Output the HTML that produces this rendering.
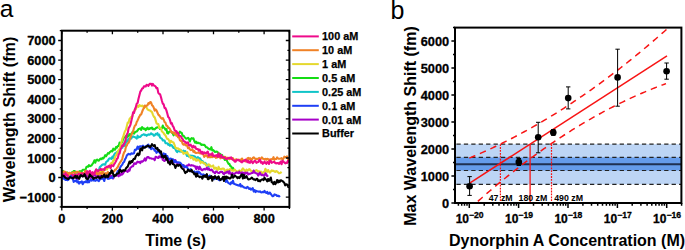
<!DOCTYPE html>
<html><head><meta charset="utf-8"><style>
html,body{margin:0;padding:0;background:#fff;}
body{width:685px;height:250px;overflow:hidden;}
svg{display:block;}
</style></head><body>
<svg width="685" height="250" viewBox="0 0 685 250">
<defs><clipPath id="ca"><rect x="61.8" y="30.7" width="227.6" height="176.2"/></clipPath></defs>
<g clip-path="url(#ca)" fill="none" stroke-width="2.1" stroke-linejoin="round">
<polyline stroke="#14dc14" points="62.0,174.8 62.9,170.8 63.8,172.7 64.7,172.1 65.6,172.9 66.5,173.3 67.4,172.5 68.3,174.4 69.2,173.6 70.1,176.9 71.0,174.0 71.9,172.2 72.8,172.3 73.7,171.1 74.6,171.0 75.5,172.0 76.4,172.6 77.3,172.5 78.2,172.7 79.1,171.7 80.0,171.0 80.9,171.9 81.8,171.1 82.7,169.7 83.6,169.8 84.5,169.7 85.4,170.2 86.3,167.2 87.2,166.6 88.1,166.8 89.0,165.1 89.9,166.2 90.8,165.8 91.7,165.3 92.6,163.8 93.5,162.7 94.4,160.3 95.3,162.7 96.2,160.1 97.1,159.5 98.0,160.4 98.9,160.6 99.8,159.4 100.7,158.6 101.6,159.2 102.5,157.9 103.4,158.5 104.3,156.9 105.2,155.2 106.1,156.3 107.0,154.8 107.9,153.2 108.8,153.6 109.7,152.2 110.6,151.6 111.5,150.8 112.4,151.3 113.3,148.7 114.2,149.7 115.1,149.7 116.0,147.0 116.9,147.6 117.8,146.0 118.7,145.9 119.6,142.5 120.5,142.9 121.4,143.1 122.3,142.1 123.2,138.3 124.1,137.5 125.0,137.4 125.9,136.0 126.8,137.6 127.7,135.5 128.6,136.2 129.5,134.1 130.4,135.5 131.3,133.6 132.2,132.6 133.1,131.3 134.0,133.7 134.9,132.4 135.8,131.7 136.7,131.5 137.6,130.5 138.5,129.1 139.4,128.8 140.3,128.4 141.2,129.9 142.1,127.1 143.0,128.1 143.9,128.9 144.8,128.6 145.7,130.2 146.6,128.7 147.5,127.6 148.4,129.2 149.3,129.0 150.2,128.1 151.1,128.5 152.0,127.5 152.9,129.2 153.8,128.9 154.7,129.4 155.6,128.4 156.5,127.6 157.4,127.2 158.3,127.5 159.2,126.8 160.1,129.0 161.0,128.5 161.9,128.3 162.8,125.6 163.7,127.6 164.6,128.1 165.5,129.6 166.4,129.0 167.3,133.2 168.2,133.4 169.1,131.7 170.0,131.5 170.9,131.3 171.8,132.4 172.7,133.4 173.6,135.3 174.5,133.3 175.4,133.9 176.3,133.1 177.2,134.2 178.1,133.2 179.0,133.3 179.9,131.7 180.8,132.6 181.7,132.7 182.6,135.8 183.5,135.7 184.4,136.9 185.3,137.9 186.2,138.7 187.1,138.5 188.0,137.8 188.9,138.8 189.8,141.5 190.7,139.2 191.6,138.1 192.5,138.6 193.4,138.3 194.3,141.0 195.2,142.7 196.1,141.7 197.0,143.2 197.9,142.5 198.8,143.2 199.7,143.2 200.6,143.9 201.5,145.0 202.4,144.6 203.3,145.0 204.2,144.7 205.1,145.7 206.0,147.2 206.9,147.2 207.8,148.1 208.7,148.8 209.6,149.2 210.5,149.5 211.4,147.2 212.3,150.5 213.2,150.1 214.1,151.0 215.0,151.9 215.9,151.7 216.8,151.5 217.7,152.2 218.6,153.7 219.5,153.5 220.4,154.1 221.3,155.2 222.2,155.1 223.1,157.9 224.0,158.4 224.9,160.0 225.8,159.3 226.7,160.2 227.6,162.1 228.5,163.9 229.4,163.9 230.3,166.1 231.2,166.4 232.1,169.0 233.0,167.9 233.9,170.1"/>
<polyline stroke="#10c4c8" points="62.0,173.4 62.9,173.7 63.8,175.8 64.7,174.9 65.6,174.0 66.5,175.1 67.4,174.5 68.3,175.5 69.2,174.5 70.1,176.5 71.0,176.5 71.9,177.5 72.8,175.8 73.7,176.1 74.6,174.0 75.5,176.7 76.4,174.1 77.3,176.2 78.2,173.9 79.1,174.1 80.0,174.4 80.9,174.3 81.8,176.1 82.7,175.2 83.6,175.6 84.5,173.1 85.4,174.6 86.3,173.7 87.2,175.2 88.1,172.5 89.0,174.3 89.9,175.2 90.8,174.2 91.7,176.0 92.6,174.2 93.5,174.2 94.4,174.1 95.3,171.5 96.2,172.0 97.1,170.8 98.0,170.1 98.9,170.2 99.8,167.1 100.7,166.4 101.6,165.4 102.5,164.7 103.4,164.3 104.3,164.4 105.2,164.7 106.1,162.0 107.0,161.4 107.9,160.6 108.8,159.1 109.7,158.2 110.6,158.3 111.5,159.0 112.4,156.6 113.3,157.9 114.2,154.6 115.1,153.2 116.0,152.9 116.9,152.0 117.8,152.0 118.7,150.8 119.6,150.0 120.5,149.1 121.4,146.7 122.3,147.8 123.2,145.1 124.1,143.8 125.0,146.0 125.9,142.5 126.8,140.2 127.7,141.3 128.6,138.6 129.5,139.3 130.4,137.7 131.3,138.6 132.2,136.8 133.1,136.4 134.0,136.9 134.9,137.1 135.8,137.6 136.7,138.7 137.6,135.7 138.5,137.5 139.4,136.8 140.3,136.9 141.2,135.8 142.1,134.9 143.0,134.7 143.9,134.2 144.8,135.1 145.7,134.8 146.6,135.8 147.5,135.0 148.4,134.4 149.3,134.8 150.2,134.3 151.1,133.3 152.0,134.1 152.9,134.2 153.8,135.7 154.7,135.5 155.6,133.9 156.5,134.4 157.4,133.2 158.3,135.3 159.2,134.5 160.1,137.7 161.0,138.2 161.9,138.6 162.8,140.5 163.7,140.4 164.6,140.6 165.5,143.1 166.4,143.3 167.3,143.2 168.2,144.8 169.1,143.8 170.0,145.8 170.9,145.0 171.8,145.2 172.7,146.9 173.6,148.0 174.5,147.1 175.4,149.3 176.3,151.0 177.2,152.2 178.1,151.0 179.0,150.6 179.9,151.6 180.8,150.1 181.7,151.7 182.6,152.0 183.5,150.7 184.4,152.2 185.3,151.0 186.2,154.0 187.1,156.0 188.0,154.7 188.9,156.6 189.8,155.9 190.7,155.6 191.6,155.8 192.5,155.7 193.4,156.1 194.3,156.2 195.2,156.9 196.1,157.9 197.0,157.8 197.9,157.2 198.8,159.1 199.7,158.1 200.6,159.3 201.5,161.2 202.4,161.0 203.3,162.1 204.2,163.5 205.1,162.8 206.0,163.8 206.9,164.5 207.8,165.9 208.7,165.7 209.6,167.3"/>
<polyline stroke="#e5d82e" points="62.0,173.6 62.9,173.4 63.8,174.3 64.7,175.0 65.6,175.2 66.5,174.2 67.4,173.5 68.3,173.5 69.2,175.3 70.1,176.0 71.0,175.2 71.9,174.5 72.8,175.2 73.7,177.6 74.6,176.7 75.5,174.6 76.4,175.6 77.3,174.4 78.2,174.4 79.1,174.9 80.0,175.1 80.9,175.7 81.8,174.6 82.7,174.4 83.6,174.8 84.5,175.7 85.4,173.9 86.3,175.2 87.2,174.9 88.1,175.2 89.0,174.7 89.9,175.1 90.8,174.6 91.7,174.2 92.6,173.1 93.5,173.9 94.4,173.2 95.3,172.9 96.2,174.5 97.1,171.9 98.0,173.7 98.9,173.0 99.8,170.4 100.7,172.9 101.6,170.9 102.5,171.9 103.4,171.4 104.3,168.9 105.2,169.8 106.1,168.8 107.0,169.5 107.9,167.1 108.8,167.5 109.7,165.3 110.6,164.0 111.5,162.8 112.4,163.6 113.3,160.4 114.2,160.3 115.1,156.8 116.0,155.5 116.9,153.8 117.8,151.3 118.7,150.3 119.6,148.9 120.5,145.0 121.4,142.4 122.3,138.7 123.2,136.7 124.1,133.6 125.0,131.2 125.9,129.7 126.8,126.2 127.7,122.6 128.6,122.8 129.5,119.0 130.4,118.1 131.3,116.7 132.2,116.6 133.1,113.7 134.0,111.7 134.9,109.8 135.8,109.3 136.7,106.9 137.6,105.8 138.5,106.9 139.4,105.0 140.3,105.6 141.2,106.2 142.1,105.6 143.0,105.9 143.9,108.0 144.8,106.5 145.7,107.2 146.6,107.7 147.5,109.3 148.4,110.0 149.3,110.4 150.2,110.5 151.1,111.4 152.0,112.1 152.9,114.6 153.8,116.6 154.7,117.4 155.6,120.1 156.5,123.3 157.4,123.9 158.3,124.0 159.2,127.8 160.1,128.0 161.0,128.4 161.9,131.5 162.8,132.1 163.7,133.1 164.6,134.6 165.5,135.5 166.4,137.4 167.3,139.0 168.2,139.0 169.1,140.5 170.0,143.0 170.9,140.8 171.8,141.7 172.7,142.3 173.6,142.6 174.5,144.8 175.4,147.5 176.3,148.5 177.2,148.2 178.1,148.3 179.0,149.5 179.9,149.4 180.8,150.6 181.7,151.5 182.6,151.8 183.5,153.9 184.4,153.0 185.3,152.9 186.2,153.4 187.1,152.0 188.0,153.7 188.9,155.1 189.8,156.3 190.7,158.1 191.6,157.1 192.5,157.0 193.4,159.6 194.3,159.4 195.2,158.7 196.1,160.8 197.0,160.7 197.9,159.3 198.8,160.4 199.7,160.6 200.6,163.2 201.5,161.8 202.4,161.8 203.3,163.2 204.2,163.2 205.1,163.4 206.0,165.4 206.9,165.6 207.8,165.2 208.7,164.4 209.6,164.7 210.5,166.5 211.4,166.4 212.3,166.3 213.2,165.4 214.1,168.7 215.0,168.7 215.9,167.5 216.8,169.2 217.7,169.8 218.6,166.8 219.5,168.9 220.4,169.0 221.3,169.4 222.2,168.6 223.1,168.6 224.0,168.8 224.9,171.1 225.8,171.7 226.7,169.7 227.6,169.6 228.5,172.0 229.4,169.4 230.3,169.0 231.2,170.0 232.1,170.7 233.0,170.4 233.9,170.7 234.8,169.5 235.7,170.8 236.6,171.0 237.5,172.1 238.4,171.5 239.3,170.3 240.2,170.8 241.1,172.3 242.0,169.7 242.9,168.4 243.8,169.5 244.7,170.4 245.6,171.9 246.5,169.5 247.4,170.6 248.3,170.3 249.2,169.0 250.1,169.7 251.0,171.0 251.9,171.4 252.8,171.4 253.7,170.8 254.6,171.5 255.5,170.9 256.4,170.1 257.3,170.6 258.2,171.7 259.1,171.3 260.0,173.9 260.9,171.5 261.8,172.9 262.7,173.2 263.6,172.0 264.5,171.9 265.4,168.7 266.3,170.9 267.2,171.8 268.1,170.0 269.0,171.6 269.9,172.7 270.8,171.5 271.7,170.3 272.6,170.9 273.5,170.7 274.4,171.6 275.3,171.9 276.2,171.1 277.1,171.4 278.0,172.2 278.9,173.3 279.8,173.2 280.7,172.7 281.6,171.9"/>
<polyline stroke="#a600c8" points="62.0,177.5 62.9,177.8 63.8,174.4 64.7,176.4 65.6,177.4 66.5,177.5 67.4,177.3 68.3,177.8 69.2,176.9 70.1,177.2 71.0,176.2 71.9,175.8 72.8,176.4 73.7,177.5 74.6,176.5 75.5,178.0 76.4,178.2 77.3,179.2 78.2,178.5 79.1,178.3 80.0,175.3 80.9,175.1 81.8,175.4 82.7,176.3 83.6,175.1 84.5,174.5 85.4,176.5 86.3,175.2 87.2,177.0 88.1,176.7 89.0,176.5 89.9,177.0 90.8,178.0 91.7,176.5 92.6,177.3 93.5,175.3 94.4,175.3 95.3,175.0 96.2,176.5 97.1,176.5 98.0,175.8 98.9,178.1 99.8,175.9 100.7,175.5 101.6,175.9 102.5,177.7 103.4,175.8 104.3,176.6 105.2,176.0 106.1,174.2 107.0,177.2 107.9,177.7 108.8,176.8 109.7,176.9 110.6,175.7 111.5,175.9 112.4,177.0 113.3,178.3 114.2,176.1 115.1,176.0 116.0,175.6 116.9,174.8 117.8,175.4 118.7,176.3 119.6,174.3 120.5,175.3 121.4,173.2 122.3,174.5 123.2,173.1 124.1,171.6 125.0,171.0 125.9,170.9 126.8,171.2 127.7,171.9 128.6,169.7 129.5,170.7 130.4,167.6 131.3,167.1 132.2,166.2 133.1,166.1 134.0,163.6 134.9,163.3 135.8,164.0 136.7,162.6 137.6,161.7 138.5,162.3 139.4,161.9 140.3,163.1 141.2,161.3 142.1,161.8 143.0,161.1 143.9,160.4 144.8,158.4 145.7,160.6 146.6,158.2 147.5,157.0 148.4,157.0 149.3,158.1 150.2,158.2 151.1,158.3 152.0,158.8 152.9,158.7 153.8,158.7 154.7,160.2 155.6,156.8 156.5,157.0 157.4,157.7 158.3,158.0 159.2,156.3 160.1,157.3 161.0,157.1 161.9,156.2 162.8,159.9 163.7,160.5 164.6,161.0 165.5,159.2 166.4,159.4 167.3,158.8 168.2,160.0 169.1,159.9 170.0,161.8 170.9,161.7 171.8,162.6 172.7,162.9 173.6,162.7 174.5,160.2 175.4,160.1 176.3,162.7 177.2,162.8 178.1,163.6 179.0,164.8 179.9,164.7 180.8,165.0 181.7,165.7 182.6,166.2 183.5,165.0 184.4,167.6 185.3,166.7 186.2,166.4 187.1,165.4 188.0,165.6 188.9,164.4 189.8,165.3 190.7,165.6 191.6,165.1 192.5,165.5 193.4,165.5 194.3,166.3 195.2,166.3 196.1,169.0 197.0,166.7 197.9,167.2 198.8,169.3 199.7,166.7 200.6,168.7 201.5,169.9 202.4,170.2 203.3,169.3 204.2,168.8 205.1,169.5 206.0,169.0 206.9,167.6 207.8,169.5 208.7,168.3 209.6,170.0 210.5,170.2 211.4,169.6 212.3,170.4 213.2,171.9 214.1,172.4 215.0,173.3 215.9,171.6 216.8,171.6 217.7,172.6 218.6,173.0 219.5,172.9 220.4,171.7 221.3,172.0 222.2,171.9 223.1,173.4 224.0,174.2 224.9,172.7 225.8,173.0 226.7,171.9 227.6,171.6 228.5,173.3 229.4,171.2 230.3,173.8 231.2,174.4 232.1,173.0 233.0,173.5 233.9,174.1 234.8,173.6 235.7,172.8 236.6,172.3 237.5,172.7 238.4,173.1 239.3,171.7 240.2,173.2 241.1,173.4 242.0,172.3 242.9,174.1 243.8,172.7 244.7,174.3 245.6,172.7 246.5,173.3 247.4,172.7 248.3,174.4 249.2,173.9 250.1,173.8 251.0,173.4 251.9,173.0 252.8,172.9 253.7,170.6 254.6,172.6 255.5,172.7 256.4,173.5 257.3,173.5 258.2,175.6 259.1,174.1 260.0,172.6 260.9,174.6 261.8,175.2 262.7,174.6 263.6,175.6 264.5,175.5 265.4,173.3 266.3,174.2 267.2,176.1 268.1,175.2"/>
<polyline stroke="#f08226" points="62.0,172.0 62.9,171.9 63.8,171.9 64.7,171.5 65.6,172.4 66.5,172.3 67.4,172.8 68.3,174.1 69.2,172.8 70.1,172.9 71.0,173.4 71.9,173.2 72.8,172.6 73.7,172.2 74.6,172.8 75.5,173.2 76.4,171.9 77.3,171.8 78.2,171.8 79.1,172.9 80.0,172.4 80.9,174.5 81.8,173.2 82.7,173.0 83.6,173.2 84.5,172.6 85.4,170.6 86.3,172.8 87.2,172.9 88.1,173.0 89.0,172.1 89.9,173.4 90.8,173.1 91.7,173.8 92.6,174.6 93.5,172.8 94.4,172.7 95.3,173.4 96.2,172.8 97.1,173.6 98.0,174.7 98.9,174.1 99.8,172.8 100.7,173.3 101.6,174.0 102.5,171.6 103.4,174.0 104.3,173.7 105.2,173.2 106.1,175.0 107.0,173.2 107.9,172.0 108.8,173.2 109.7,173.7 110.6,173.0 111.5,172.3 112.4,171.0 113.3,171.3 114.2,171.4 115.1,169.5 116.0,169.5 116.9,167.9 117.8,167.0 118.7,164.8 119.6,163.3 120.5,161.9 121.4,160.7 122.3,158.6 123.2,154.9 124.1,152.3 125.0,151.3 125.9,146.9 126.8,145.5 127.7,143.4 128.6,142.7 129.5,140.7 130.4,137.5 131.3,135.5 132.2,132.9 133.1,131.7 134.0,127.8 134.9,125.7 135.8,125.0 136.7,122.0 137.6,120.4 138.5,118.3 139.4,116.6 140.3,114.7 141.2,114.4 142.1,111.8 143.0,109.5 143.9,108.1 144.8,105.6 145.7,106.5 146.6,105.5 147.5,105.4 148.4,103.2 149.3,103.6 150.2,102.0 151.1,102.5 152.0,105.2 152.9,106.1 153.8,107.8 154.7,110.6 155.6,109.3 156.5,110.4 157.4,112.5 158.3,114.6 159.2,115.4 160.1,116.7 161.0,118.0 161.9,118.7 162.8,118.0 163.7,119.7 164.6,122.2 165.5,122.7 166.4,125.7 167.3,125.8 168.2,128.0 169.1,127.9 170.0,129.1 170.9,131.1 171.8,132.6 172.7,132.0 173.6,132.8 174.5,134.0 175.4,132.7 176.3,135.7 177.2,134.9 178.1,137.3 179.0,137.3 179.9,140.2 180.8,140.9 181.7,140.8 182.6,143.8 183.5,144.6 184.4,144.0 185.3,145.0 186.2,145.5 187.1,145.2 188.0,148.2 188.9,147.6 189.8,149.2 190.7,150.1 191.6,149.7 192.5,149.4 193.4,151.8 194.3,150.9 195.2,152.7 196.1,152.9 197.0,152.7 197.9,152.7 198.8,152.6 199.7,153.3 200.6,153.4 201.5,153.5 202.4,153.7 203.3,154.4 204.2,156.9 205.1,155.8 206.0,155.1 206.9,155.8 207.8,157.3 208.7,155.4 209.6,157.3 210.5,157.3 211.4,155.6 212.3,157.2 213.2,156.0 214.1,156.8 215.0,155.8 215.9,157.9 216.8,157.5 217.7,157.2 218.6,156.8 219.5,156.3 220.4,158.3 221.3,157.1 222.2,157.7 223.1,157.6 224.0,157.0 224.9,156.7 225.8,158.0 226.7,157.7 227.6,157.7 228.5,158.4 229.4,159.2 230.3,158.2 231.2,158.9 232.1,158.0 233.0,158.3 233.9,160.3 234.8,160.2 235.7,159.5 236.6,159.2 237.5,160.0 238.4,159.9 239.3,160.4 240.2,159.6 241.1,160.6 242.0,158.5 242.9,160.1 243.8,160.2 244.7,160.6 245.6,161.5 246.5,160.5 247.4,158.3 248.3,157.8 249.2,159.1 250.1,158.2 251.0,159.2 251.9,159.7 252.8,157.9 253.7,157.3 254.6,158.3 255.5,158.9 256.4,158.7 257.3,158.9 258.2,158.8 259.1,157.9 260.0,159.4 260.9,158.6 261.8,157.4 262.7,158.7 263.6,158.8 264.5,159.4 265.4,158.8 266.3,159.7 267.2,158.8 268.1,159.0 269.0,160.4 269.9,159.3 270.8,159.5 271.7,159.1 272.6,159.2 273.5,157.1 274.4,159.8 275.3,159.0 276.2,159.0 277.1,157.4 278.0,158.4 278.9,158.7 279.8,158.7 280.7,158.5 281.6,158.1 282.5,159.9 283.4,158.6 284.3,156.7 285.2,157.1 286.1,157.0 287.0,156.3 287.9,158.9 288.8,160.8"/>
<polyline stroke="#ee0a8a" points="62.0,175.0 62.9,175.0 63.8,175.0 64.7,175.3 65.6,173.2 66.5,175.2 67.4,175.0 68.3,176.6 69.2,176.8 70.1,176.9 71.0,175.6 71.9,174.8 72.8,175.4 73.7,176.5 74.6,174.5 75.5,175.9 76.4,175.0 77.3,175.8 78.2,174.0 79.1,173.9 80.0,174.5 80.9,174.5 81.8,173.1 82.7,175.0 83.6,174.5 84.5,173.7 85.4,174.1 86.3,173.2 87.2,171.2 88.1,173.8 89.0,171.7 89.9,170.8 90.8,173.0 91.7,174.7 92.6,172.2 93.5,173.8 94.4,174.0 95.3,171.1 96.2,169.3 97.1,170.5 98.0,171.4 98.9,170.2 99.8,170.0 100.7,168.9 101.6,170.0 102.5,169.2 103.4,169.2 104.3,170.1 105.2,167.6 106.1,167.4 107.0,166.5 107.9,167.1 108.8,165.9 109.7,165.9 110.6,168.2 111.5,165.2 112.4,165.6 113.3,166.2 114.2,164.1 115.1,162.8 116.0,161.3 116.9,158.9 117.8,158.1 118.7,154.2 119.6,153.4 120.5,149.4 121.4,147.6 122.3,145.4 123.2,145.8 124.1,143.3 125.0,142.0 125.9,137.8 126.8,134.5 127.7,133.1 128.6,128.2 129.5,126.9 130.4,124.9 131.3,120.9 132.2,117.2 133.1,112.3 134.0,112.9 134.9,109.3 135.8,107.3 136.7,103.8 137.6,103.0 138.5,98.8 139.4,95.2 140.3,91.7 141.2,90.5 142.1,88.6 143.0,88.3 143.9,86.4 144.8,86.3 145.7,86.4 146.6,84.8 147.5,85.2 148.4,85.8 149.3,84.4 150.2,83.7 151.1,83.8 152.0,85.6 152.9,83.9 153.8,85.6 154.7,85.8 155.6,86.5 156.5,88.2 157.4,88.1 158.3,92.9 159.2,93.9 160.1,94.2 161.0,97.3 161.9,100.8 162.8,103.7 163.7,104.4 164.6,108.1 165.5,108.1 166.4,110.4 167.3,113.5 168.2,116.9 169.1,117.8 170.0,120.1 170.9,123.6 171.8,123.1 172.7,125.8 173.6,127.1 174.5,129.9 175.4,131.0 176.3,131.0 177.2,133.0 178.1,132.9 179.0,135.5 179.9,135.9 180.8,136.3 181.7,137.8 182.6,139.1 183.5,140.8 184.4,141.5 185.3,142.0 186.2,143.1 187.1,142.6 188.0,142.4 188.9,145.2 189.8,145.6 190.7,144.6 191.6,146.4 192.5,147.5 193.4,145.8 194.3,147.3 195.2,146.6 196.1,148.9 197.0,148.9 197.9,149.1 198.8,150.6 199.7,149.6 200.6,151.4 201.5,153.4 202.4,151.8 203.3,153.9 204.2,152.3 205.1,153.0 206.0,153.3 206.9,152.3 207.8,151.7 208.7,155.8 209.6,154.3 210.5,154.2 211.4,154.9 212.3,153.1 213.2,155.9 214.1,156.2 215.0,155.5 215.9,155.6 216.8,155.0 217.7,157.0 218.6,153.4 219.5,156.3 220.4,156.8 221.3,155.0 222.2,157.6 223.1,157.0 224.0,157.5 224.9,158.0 225.8,158.9 226.7,159.3 227.6,158.3 228.5,158.2 229.4,157.8 230.3,158.1 231.2,157.4 232.1,159.1 233.0,159.8 233.9,160.3 234.8,161.7 235.7,161.6 236.6,159.9 237.5,160.1 238.4,159.8 239.3,160.7 240.2,161.2 241.1,161.8 242.0,162.3 242.9,160.9 243.8,161.3 244.7,160.4 245.6,159.6 246.5,160.8 247.4,162.1 248.3,160.7 249.2,162.7 250.1,162.7 251.0,160.9 251.9,161.7 252.8,163.1 253.7,162.0 254.6,160.9 255.5,161.0 256.4,162.8 257.3,162.4 258.2,162.0 259.1,160.2 260.0,159.8 260.9,162.7 261.8,161.9 262.7,163.8 263.6,163.2 264.5,161.5 265.4,162.9 266.3,163.9 267.2,162.0 268.1,162.5 269.0,164.0 269.9,160.6 270.8,161.0 271.7,162.8 272.6,162.4 273.5,162.0 274.4,161.7 275.3,163.1 276.2,163.4 277.1,163.1 278.0,162.9 278.9,163.9 279.8,163.1 280.7,161.5 281.6,164.2 282.5,160.8 283.4,161.6 284.3,162.5 285.2,163.3 286.1,162.6 287.0,163.1 287.9,160.8 288.8,162.7"/>
<polyline stroke="#1f3ff5" points="62.0,178.2 62.9,178.7 63.8,177.1 64.7,179.1 65.6,179.9 66.5,179.6 67.4,180.2 68.3,179.8 69.2,178.7 70.1,176.9 71.0,176.1 71.9,178.5 72.8,178.5 73.7,181.9 74.6,180.9 75.5,181.2 76.4,180.1 77.3,182.3 78.2,181.3 79.1,183.6 80.0,182.1 80.9,182.4 81.8,181.3 82.7,184.2 83.6,182.2 84.5,181.9 85.4,182.2 86.3,181.0 87.2,182.3 88.1,180.1 89.0,182.3 89.9,180.3 90.8,179.8 91.7,180.6 92.6,178.9 93.5,180.5 94.4,179.5 95.3,180.8 96.2,180.4 97.1,179.6 98.0,180.6 98.9,181.1 99.8,179.4 100.7,179.1 101.6,178.8 102.5,178.7 103.4,178.9 104.3,181.0 105.2,177.1 106.1,177.0 107.0,177.8 107.9,178.9 108.8,178.8 109.7,178.2 110.6,177.9 111.5,177.4 112.4,178.2 113.3,175.8 114.2,175.8 115.1,174.9 116.0,175.2 116.9,173.7 117.8,171.0 118.7,172.4 119.6,169.0 120.5,166.9 121.4,165.6 122.3,164.6 123.2,162.6 124.1,162.0 125.0,159.3 125.9,158.0 126.8,155.5 127.7,154.6 128.6,153.8 129.5,154.3 130.4,154.5 131.3,153.3 132.2,153.6 133.1,153.6 134.0,153.2 134.9,149.7 135.8,150.0 136.7,149.1 137.6,146.6 138.5,148.8 139.4,146.6 140.3,146.2 141.2,146.7 142.1,146.3 143.0,145.7 143.9,146.7 144.8,147.3 145.7,146.6 146.6,145.7 147.5,145.5 148.4,144.5 149.3,147.6 150.2,146.2 151.1,149.2 152.0,147.9 152.9,148.6 153.8,148.9 154.7,150.8 155.6,150.6 156.5,152.8 157.4,151.8 158.3,151.6 159.2,151.8 160.1,153.6 161.0,154.0 161.9,156.0 162.8,154.9 163.7,153.3 164.6,156.2 165.5,154.0 166.4,158.4 167.3,156.0 168.2,158.7 169.1,159.3 170.0,158.7 170.9,158.5 171.8,160.1 172.7,159.2 173.6,159.8 174.5,162.1 175.4,161.0 176.3,162.1 177.2,162.3 178.1,162.3 179.0,162.6 179.9,162.6 180.8,163.3 181.7,164.5 182.6,165.4 183.5,165.4 184.4,166.9 185.3,166.6 186.2,166.9 187.1,167.4 188.0,169.2 188.9,170.4 189.8,169.9 190.7,169.2 191.6,171.4 192.5,171.9 193.4,171.7 194.3,171.4 195.2,172.4 196.1,173.5 197.0,171.5 197.9,173.4 198.8,171.8 199.7,172.5 200.6,173.9 201.5,174.4 202.4,175.0 203.3,174.3 204.2,174.8 205.1,176.0 206.0,174.8 206.9,175.3 207.8,176.8 208.7,177.0 209.6,175.5 210.5,176.9 211.4,177.5 212.3,178.2 213.2,177.6 214.1,179.1 215.0,179.0 215.9,177.4 216.8,178.0 217.7,177.5 218.6,179.9 219.5,180.3 220.4,179.0 221.3,179.4 222.2,179.3 223.1,178.1 224.0,177.0 224.9,177.7 225.8,181.9 226.7,179.8 227.6,181.9 228.5,183.1 229.4,183.5 230.3,184.3 231.2,182.3 232.1,183.2 233.0,180.7 233.9,183.8 234.8,184.1 235.7,184.5 236.6,184.9 237.5,185.0 238.4,185.5 239.3,185.7 240.2,184.0 241.1,186.6 242.0,185.7 242.9,186.6 243.8,187.3 244.7,187.7 245.6,187.8 246.5,188.2 247.4,186.9 248.3,187.5 249.2,189.0 250.1,188.3 251.0,189.6 251.9,188.9 252.8,188.2 253.7,191.6 254.6,190.0 255.5,192.1 256.4,190.9 257.3,191.2 258.2,191.4 259.1,191.6 260.0,191.4 260.9,192.2 261.8,192.4 262.7,191.9 263.6,192.2 264.5,190.8 265.4,192.4 266.3,193.0 267.2,191.8 268.1,193.8 269.0,193.7 269.9,192.5 270.8,194.0 271.7,195.1 272.6,196.3 273.5,196.0 274.4,194.4 275.3,194.7 276.2,195.0 277.1,196.0 278.0,195.8 278.9,195.8 279.8,197.1"/>
<polyline stroke="#000000" points="62.0,175.4 62.9,176.0 63.8,175.8 64.7,177.1 65.6,177.8 66.5,178.3 67.4,178.7 68.3,179.0 69.2,178.1 70.1,177.1 71.0,177.5 71.9,177.8 72.8,178.2 73.7,178.0 74.6,176.6 75.5,175.9 76.4,177.9 77.3,176.1 78.2,178.0 79.1,178.8 80.0,176.6 80.9,175.1 81.8,175.7 82.7,176.5 83.6,176.1 84.5,174.2 85.4,176.0 86.3,178.7 87.2,179.2 88.1,178.8 89.0,176.9 89.9,174.4 90.8,176.0 91.7,176.3 92.6,177.5 93.5,179.0 94.4,177.7 95.3,177.7 96.2,177.9 97.1,177.3 98.0,176.4 98.9,177.0 99.8,178.5 100.7,177.8 101.6,176.2 102.5,177.2 103.4,176.0 104.3,174.5 105.2,177.3 106.1,176.9 107.0,175.3 107.9,177.1 108.8,175.2 109.7,173.1 110.6,173.6 111.5,170.2 112.4,171.4 113.3,174.5 114.2,176.3 115.1,175.3 116.0,175.4 116.9,173.5 117.8,173.5 118.7,173.5 119.6,169.7 120.5,169.9 121.4,171.9 122.3,171.3 123.2,170.1 124.1,170.7 125.0,170.4 125.9,168.5 126.8,167.3 127.7,166.6 128.6,164.1 129.5,161.5 130.4,163.4 131.3,161.1 132.2,162.0 133.1,159.8 134.0,158.8 134.9,158.9 135.8,156.1 136.7,155.1 137.6,153.5 138.5,155.3 139.4,154.5 140.3,149.1 141.2,148.4 142.1,150.4 143.0,146.9 143.9,147.8 144.8,147.7 145.7,146.9 146.6,146.8 147.5,145.5 148.4,145.9 149.3,146.4 150.2,147.3 151.1,145.9 152.0,144.1 152.9,145.5 153.8,146.0 154.7,145.1 155.6,148.0 156.5,148.8 157.4,147.9 158.3,150.7 159.2,150.1 160.1,152.2 161.0,151.4 161.9,156.7 162.8,155.8 163.7,157.7 164.6,156.2 165.5,155.6 166.4,159.8 167.3,158.4 168.2,162.7 169.1,162.3 170.0,164.5 170.9,161.3 171.8,160.3 172.7,164.0 173.6,164.3 174.5,165.0 175.4,167.9 176.3,165.6 177.2,164.8 178.1,165.9 179.0,164.9 179.9,164.7 180.8,166.4 181.7,167.9 182.6,168.9 183.5,169.3 184.4,171.1 185.3,173.1 186.2,171.9 187.1,171.9 188.0,169.7 188.9,170.4 189.8,171.3 190.7,171.3 191.6,169.8 192.5,172.2 193.4,172.3 194.3,174.2 195.2,173.7 196.1,176.8 197.0,173.5 197.9,176.1 198.8,176.4 199.7,177.1 200.6,176.5 201.5,177.1 202.4,178.7 203.3,175.9 204.2,176.7 205.1,175.5 206.0,176.9 206.9,174.2 207.8,179.1 208.7,179.2 209.6,177.1 210.5,177.8 211.4,176.1 212.3,180.7 213.2,177.1 214.1,178.0 215.0,176.1 215.9,177.5 216.8,179.0 217.7,177.3 218.6,176.4 219.5,179.2 220.4,180.1 221.3,179.1 222.2,178.3 223.1,176.8 224.0,181.0 224.9,176.6 225.8,178.7 226.7,176.7 227.6,177.9 228.5,177.6 229.4,178.5 230.3,178.4 231.2,177.3 232.1,174.7 233.0,177.7 233.9,176.7 234.8,175.7 235.7,176.4 236.6,176.8 237.5,178.1 238.4,177.2 239.3,178.1 240.2,176.6 241.1,175.3 242.0,174.3 242.9,178.4 243.8,174.8 244.7,177.9 245.6,177.5 246.5,176.2 247.4,178.0 248.3,179.4 249.2,179.2 250.1,178.9 251.0,178.4 251.9,177.6 252.8,178.7 253.7,179.5 254.6,179.4 255.5,180.1 256.4,179.1 257.3,178.8 258.2,181.1 259.1,180.3 260.0,181.4 260.9,180.1 261.8,179.5 262.7,179.4 263.6,180.1 264.5,177.7 265.4,179.2 266.3,179.7 267.2,181.3 268.1,179.0 269.0,180.8 269.9,179.8 270.8,177.5 271.7,182.3 272.6,182.6 273.5,184.2 274.4,181.9 275.3,184.2 276.2,182.8 277.1,180.1 278.0,182.5 278.9,180.5 279.8,181.8 280.7,180.3 281.6,180.6 282.5,181.1 283.4,181.8 284.3,182.9 285.2,185.3 286.1,184.2 287.0,184.4 287.9,185.9 288.8,184.5"/>
</g>
<rect x="61.8" y="30.7" width="227.6" height="176.2" fill="none" stroke="#000" stroke-width="2"/>
<path d="M59.8,206.9H61.8 M289.4,206.9H287.4 M58.2,197.1H61.8 M289.4,197.1H285.8 M59.8,187.3H61.8 M289.4,187.3H287.4 M58.2,177.5H61.8 M289.4,177.5H285.8 M59.8,167.7H61.8 M289.4,167.7H287.4 M58.2,158.0H61.8 M289.4,158.0H285.8 M59.8,148.2H61.8 M289.4,148.2H287.4 M58.2,138.4H61.8 M289.4,138.4H285.8 M59.8,128.6H61.8 M289.4,128.6H287.4 M58.2,118.8H61.8 M289.4,118.8H285.8 M59.8,109.0H61.8 M289.4,109.0H287.4 M58.2,99.2H61.8 M289.4,99.2H285.8 M59.8,89.4H61.8 M289.4,89.4H287.4 M58.2,79.6H61.8 M289.4,79.6H285.8 M59.8,69.9H61.8 M289.4,69.9H287.4 M58.2,60.1H61.8 M289.4,60.1H285.8 M59.8,50.3H61.8 M289.4,50.3H287.4 M58.2,40.5H61.8 M289.4,40.5H285.8 M59.8,30.7H61.8 M289.4,30.7H287.4 M61.8,206.9V210.5 M61.8,30.7V34.3 M87.1,206.9V208.9 M87.1,30.7V32.7 M112.4,206.9V210.5 M112.4,30.7V34.3 M137.7,206.9V208.9 M137.7,30.7V32.7 M163.0,206.9V210.5 M163.0,30.7V34.3 M188.2,206.9V208.9 M188.2,30.7V32.7 M213.5,206.9V210.5 M213.5,30.7V34.3 M238.8,206.9V208.9 M238.8,30.7V32.7 M264.1,206.9V210.5 M264.1,30.7V34.3 M289.4,206.9V208.9 M289.4,30.7V32.7" stroke="#000" stroke-width="1.3" fill="none"/>
<g font-family='"Liberation Sans", sans-serif' font-weight="bold" font-size="12.8" stroke="#000" stroke-width="0.3"><text transform="translate(55.7,201.71) scale(1,1.05)" text-anchor="end">−1000</text><text transform="translate(55.7,182.13) scale(1,1.05)" text-anchor="end">0</text><text transform="translate(55.7,162.56) scale(1,1.05)" text-anchor="end">1000</text><text transform="translate(55.7,142.98) scale(1,1.05)" text-anchor="end">2000</text><text transform="translate(55.7,123.40) scale(1,1.05)" text-anchor="end">3000</text><text transform="translate(55.7,103.82) scale(1,1.05)" text-anchor="end">4000</text><text transform="translate(55.7,84.24) scale(1,1.05)" text-anchor="end">5000</text><text transform="translate(55.7,64.67) scale(1,1.05)" text-anchor="end">6000</text><text transform="translate(55.7,45.09) scale(1,1.05)" text-anchor="end">7000</text><text transform="translate(61.80,223.2) scale(1,1.06)" text-anchor="middle">0</text><text transform="translate(112.38,223.2) scale(1,1.06)" text-anchor="middle">200</text><text transform="translate(162.96,223.2) scale(1,1.06)" text-anchor="middle">400</text><text transform="translate(213.53,223.2) scale(1,1.06)" text-anchor="middle">600</text><text transform="translate(264.11,223.2) scale(1,1.06)" text-anchor="middle">800</text></g>
<text transform="translate(175.7,245.8)" text-anchor="middle" font-family='"Liberation Sans", sans-serif' font-weight="bold" font-size="15.95">Time (s)</text>
<text transform="translate(14.6,119.4) rotate(-90) scale(1.01,1)" text-anchor="middle" font-family='"Liberation Sans", sans-serif' font-weight="bold" font-size="16">Wavelength Shift (fm)</text>
<line x1="292.2" x2="318.8" y1="36.4" y2="36.4" stroke="#ee0a8a" stroke-width="2"/>
<text x="322.1" y="40.2" font-family='"Liberation Sans", sans-serif' font-weight="bold" font-size="10.85" stroke="#000" stroke-width="0.25">100 aM</text>
<line x1="292.2" x2="318.8" y1="50.2" y2="50.2" stroke="#f08226" stroke-width="2"/>
<text x="322.1" y="54.1" font-family='"Liberation Sans", sans-serif' font-weight="bold" font-size="10.85" stroke="#000" stroke-width="0.25">10 aM</text>
<line x1="292.2" x2="318.8" y1="64.1" y2="64.1" stroke="#e5d82e" stroke-width="2"/>
<text x="322.1" y="68.0" font-family='"Liberation Sans", sans-serif' font-weight="bold" font-size="10.85" stroke="#000" stroke-width="0.25">1 aM</text>
<line x1="292.2" x2="318.8" y1="78.0" y2="78.0" stroke="#14dc14" stroke-width="2"/>
<text x="322.1" y="81.9" font-family='"Liberation Sans", sans-serif' font-weight="bold" font-size="10.85" stroke="#000" stroke-width="0.25">0.5 aM</text>
<line x1="292.2" x2="318.8" y1="91.9" y2="91.9" stroke="#10c4c8" stroke-width="2"/>
<text x="322.1" y="95.8" font-family='"Liberation Sans", sans-serif' font-weight="bold" font-size="10.85" stroke="#000" stroke-width="0.25">0.25 aM</text>
<line x1="292.2" x2="318.8" y1="105.8" y2="105.8" stroke="#1f3ff5" stroke-width="2"/>
<text x="322.1" y="109.7" font-family='"Liberation Sans", sans-serif' font-weight="bold" font-size="10.85" stroke="#000" stroke-width="0.25">0.1 aM</text>
<line x1="292.2" x2="318.8" y1="119.6" y2="119.6" stroke="#a600c8" stroke-width="2"/>
<text x="322.1" y="123.5" font-family='"Liberation Sans", sans-serif' font-weight="bold" font-size="10.85" stroke="#000" stroke-width="0.25">0.01 aM</text>
<line x1="292.2" x2="318.8" y1="133.5" y2="133.5" stroke="#000000" stroke-width="2"/>
<text x="322.1" y="137.4" font-family='"Liberation Sans", sans-serif' font-weight="bold" font-size="10.85" stroke="#000" stroke-width="0.25">Buffer</text>
<text x="-0.2" y="17.4" font-family='"Liberation Sans", sans-serif' font-size="24.5">a</text>
<text x="390.5" y="19" font-family='"Liberation Sans", sans-serif' font-size="25">b</text>
<rect x="455.0" y="144.2" width="226.4" height="40.1" fill="#bdd5f5"/>
<rect x="455.0" y="157.4" width="226.4" height="13.1" fill="#659ceb"/>
<line x1="455.0" x2="681.4" y1="164.2" y2="164.2" stroke="#1f3052" stroke-width="2"/>
<line x1="455.0" x2="681.4" y1="144.2" y2="144.2" stroke="#222" stroke-width="1.2" stroke-dasharray="4.3 3.12" stroke-dashoffset="6.0"/>
<line x1="455.0" x2="681.4" y1="184.3" y2="184.3" stroke="#222" stroke-width="1.2" stroke-dasharray="4.3 3.12" stroke-dashoffset="6.0"/>
<line x1="455.0" x2="681.4" y1="157.4" y2="157.4" stroke="#222" stroke-width="1.2" stroke-dasharray="4.3 3.12" stroke-dashoffset="6.0"/>
<line x1="455.0" x2="681.4" y1="170.5" y2="170.5" stroke="#222" stroke-width="1.2" stroke-dasharray="4.3 3.12" stroke-dashoffset="6.0"/>
<line x1="469.3" y1="183.3" x2="667" y2="55.8" stroke="#f81414" stroke-width="1.5"/>
<defs><clipPath id="cb"><rect x="455.0" y="27.6" width="226.4" height="175.4"/></clipPath></defs>
<g clip-path="url(#cb)" fill="none" stroke="#f81414" stroke-width="1.5" stroke-dasharray="6.5 5"><polyline points="469.30,158.12 470.96,157.43 472.63,156.73 474.29,156.03 475.96,155.31 477.62,154.60 479.28,153.87 480.95,153.14 482.61,152.40 484.27,151.66 485.94,150.91 487.60,150.15 489.27,149.39 490.93,148.62 492.59,147.84 494.26,147.05 495.92,146.26 497.59,145.46 499.25,144.66 500.91,143.85 502.58,143.03 504.24,142.20 505.91,141.37 507.57,140.53 509.23,139.69 510.90,138.84 512.56,137.98 514.22,137.11 515.89,136.24 517.55,135.36 519.22,134.48 520.88,133.58 522.54,132.69 524.21,131.78 525.87,130.87 527.54,129.95 529.20,129.02 530.86,128.09 532.53,127.15 534.19,126.20 535.85,125.25 537.52,124.29 539.18,123.33 540.85,122.35 542.51,121.37 544.17,120.39 545.84,119.39 547.50,118.39 549.17,117.39 550.83,116.37 552.49,115.35 554.16,114.33 555.82,113.29 557.48,112.25 559.15,111.21 560.81,110.15 562.48,109.09 564.14,108.03 565.80,106.95 567.47,105.87 569.13,104.78 570.80,103.69 572.46,102.59 574.12,101.48 575.79,100.37 577.45,99.25 579.12,98.12 580.78,96.98 582.44,95.84 584.11,94.70 585.77,93.54 587.43,92.38 589.10,91.21 590.76,90.04 592.43,88.86 594.09,87.67 595.75,86.47 597.42,85.27 599.08,84.06 600.75,82.85 602.41,81.63 604.07,80.40 605.74,79.16 607.40,77.92 609.06,76.67 610.73,75.42 612.39,74.15 614.06,72.89 615.72,71.61 617.38,70.33 619.05,69.04 620.71,67.74 622.38,66.44 624.04,65.13 625.70,63.82 627.37,62.49 629.03,61.16 630.69,59.83 632.36,58.49 634.02,57.14 635.69,55.78 637.35,54.42 639.01,53.05 640.68,51.67 642.34,50.29 644.01,48.90 645.67,47.50 647.33,46.10 649.00,44.69 650.66,43.27 652.33,41.85 653.99,40.42 655.65,38.98 657.32,37.54 658.98,36.09 660.64,34.63 662.31,33.17 663.97,31.69 665.64,30.22 667.30,28.73"/><polyline points="469.30,209.06 470.95,207.56 472.61,206.06 474.26,204.57 475.91,203.09 477.56,201.62 479.22,200.15 480.87,198.69 482.52,197.24 484.18,195.80 485.83,194.37 487.48,192.94 489.14,191.52 490.79,190.10 492.44,188.70 494.09,187.30 495.75,185.91 497.40,184.53 499.05,183.16 500.71,181.79 502.36,180.43 504.01,179.08 505.66,177.74 507.32,176.40 508.97,175.07 510.62,173.75 512.28,172.44 513.93,171.13 515.58,169.83 517.24,168.54 518.89,167.26 520.54,165.98 522.19,164.72 523.85,163.46 525.50,162.20 527.15,160.96 528.81,159.72 530.46,158.49 532.11,157.27 533.76,156.06 535.42,154.85 537.07,153.65 538.72,152.46 540.38,151.27 542.03,150.10 543.68,148.93 545.34,147.77 546.99,146.62 548.64,145.47 550.29,144.33 551.95,143.20 553.60,142.08 555.25,140.96 556.91,139.86 558.56,138.76 560.21,137.66 561.86,136.58 563.52,135.50 565.17,134.43 566.82,133.37 568.48,132.32 570.13,131.27 571.78,130.23 573.44,129.20 575.09,128.18 576.74,127.16 578.39,126.15 580.05,125.15 581.70,124.16 583.35,123.17 585.01,122.19 586.66,121.22 588.31,120.26 589.96,119.31 591.62,118.36 593.27,117.42 594.92,116.49 596.58,115.56 598.23,114.65 599.88,113.74 601.54,112.83 603.19,111.94 604.84,111.05 606.49,110.18 608.15,109.30 609.80,108.44 611.45,107.58 613.11,106.74 614.76,105.90 616.41,105.06 618.06,104.24 619.72,103.42 621.37,102.61 623.02,101.81 624.68,101.01 626.33,100.22 627.98,99.44 629.64,98.67 631.29,97.91 632.94,97.15 634.59,96.40 636.25,95.66 637.90,94.93 639.55,94.20 641.21,93.48 642.86,92.77 644.51,92.07 646.16,91.37 647.82,90.68 649.47,90.00 651.12,89.33 652.78,88.66 654.43,88.01 656.08,87.36 657.74,86.71 659.39,86.08 661.04,85.45 662.69,84.83 664.35,84.22 666.00,83.62"/></g>
<line x1="530.1" x2="530.1" y1="144.2" y2="203.0" stroke="#f81414" stroke-width="1.3"/>
<line x1="500.4" x2="500.4" y1="144.2" y2="203.0" stroke="#f81414" stroke-width="1.2" stroke-dasharray="1.8 1.1"/>
<line x1="551.5" x2="551.5" y1="144.2" y2="203.0" stroke="#f81414" stroke-width="1.2" stroke-dasharray="1.8 1.1"/>
<path d="M469.6,176.6V195.4M467.40000000000003,176.6H471.8M467.40000000000003,195.4H471.8M518.8,158.5V165.5M516.5999999999999,158.5H521.0M516.5999999999999,165.5H521.0M538.2,122.3V152.8M536.0,122.3H540.4000000000001M536.0,152.8H540.4000000000001M553.3,129.5V135.4M551.0999999999999,129.5H555.5M551.0999999999999,135.4H555.5M568.2,86.9V108.9M566.0,86.9H570.4000000000001M566.0,108.9H570.4000000000001M617.6,49.2V106.2M615.4,49.2H619.8000000000001M615.4,106.2H619.8000000000001M666.6,63V79.2M664.4,63H668.8000000000001M664.4,79.2H668.8000000000001" stroke="#000" stroke-width="1" fill="none"/>
<circle cx="469.6" cy="186.2" r="3.3" fill="#000"/>
<circle cx="518.8" cy="162" r="3.3" fill="#000"/>
<circle cx="538.2" cy="137.2" r="3.3" fill="#000"/>
<circle cx="553.3" cy="132.5" r="3.3" fill="#000"/>
<circle cx="568.2" cy="98.1" r="3.3" fill="#000"/>
<circle cx="617.6" cy="77.4" r="3.3" fill="#000"/>
<circle cx="666.6" cy="71.3" r="3.3" fill="#000"/>
<g font-family='"Liberation Sans", sans-serif' font-weight="bold" font-size="8.8" fill="#000"><text x="488.7" y="200.9">47 zM</text><text x="518.5" y="200.9">180 zM</text><text x="554.2" y="200.9">490 zM</text></g>
<rect x="455.0" y="27.6" width="226.4" height="175.4" fill="none" stroke="#000" stroke-width="2"/>
<path d="M451.4,203.0H455.0 M453.0,189.5H455.0 M451.4,176.0H455.0 M453.0,162.5H455.0 M451.4,149.0H455.0 M453.0,135.5H455.0 M451.4,122.0H455.0 M453.0,108.6H455.0 M451.4,95.1H455.0 M453.0,81.6H455.0 M451.4,68.1H455.0 M453.0,54.6H455.0 M451.4,41.1H455.0 M453.0,27.6H455.0 M458.4,203.0V205.8 M461.7,203.0V205.8 M464.5,203.0V205.8 M467.0,203.0V205.8 M469.3,203.0V208.0 M484.2,203.0V205.8 M492.8,203.0V205.8 M499.0,203.0V205.8 M503.8,203.0V205.8 M507.7,203.0V205.8 M511.0,203.0V205.8 M513.9,203.0V205.8 M516.4,203.0V205.8 M518.6,203.0V208.0 M533.5,203.0V205.8 M542.2,203.0V205.8 M548.4,203.0V205.8 M553.1,203.0V205.8 M557.1,203.0V205.8 M560.4,203.0V205.8 M563.2,203.0V205.8 M565.7,203.0V205.8 M568.0,203.0V208.0 M582.9,203.0V205.8 M591.5,203.0V205.8 M597.7,203.0V205.8 M602.5,203.0V205.8 M606.4,203.0V205.8 M609.7,203.0V205.8 M612.6,203.0V205.8 M615.1,203.0V205.8 M617.4,203.0V208.0 M632.2,203.0V205.8 M640.9,203.0V205.8 M647.1,203.0V205.8 M651.8,203.0V205.8 M655.8,203.0V205.8 M659.1,203.0V205.8 M661.9,203.0V205.8 M664.4,203.0V205.8 M666.7,203.0V208.0 M681.6,203.0V205.8" stroke="#000" stroke-width="1.5" fill="none"/>
<g font-family='"Liberation Sans", sans-serif' font-weight="bold" stroke="#000" stroke-width="0.3"><text transform="translate(449.2,207.60) scale(1,1.05)" text-anchor="end" font-size="12.8">0</text><text transform="translate(449.2,180.62) scale(1,1.05)" text-anchor="end" font-size="12.8">1000</text><text transform="translate(449.2,153.63) scale(1,1.05)" text-anchor="end" font-size="12.8">2000</text><text transform="translate(449.2,126.65) scale(1,1.05)" text-anchor="end" font-size="12.8">3000</text><text transform="translate(449.2,99.66) scale(1,1.05)" text-anchor="end" font-size="12.8">4000</text><text transform="translate(449.2,72.68) scale(1,1.05)" text-anchor="end" font-size="12.8">5000</text><text transform="translate(449.2,45.69) scale(1,1.05)" text-anchor="end" font-size="12.8">6000</text><text x="455.7" y="223.2" font-size="12">10<tspan font-size="8.6" dy="-5.6">−20</tspan></text><text x="505.0" y="223.2" font-size="12">10<tspan font-size="8.6" dy="-5.6">−19</tspan></text><text x="554.4" y="223.2" font-size="12">10<tspan font-size="8.6" dy="-5.6">−18</tspan></text><text x="603.8" y="223.2" font-size="12">10<tspan font-size="8.6" dy="-5.6">−17</tspan></text><text x="653.1" y="223.2" font-size="12">10<tspan font-size="8.6" dy="-5.6">−16</tspan></text></g>
<text transform="translate(567,245.8)" text-anchor="middle" font-family='"Liberation Sans", sans-serif' font-weight="bold" font-size="16">Dynorphin A Concentration (M)</text>
<text transform="translate(416,126) rotate(-90)" text-anchor="middle" font-family='"Liberation Sans", sans-serif' font-weight="bold" font-size="16">Max Wavelength Shift (fm)</text>
</svg>
</body></html>
